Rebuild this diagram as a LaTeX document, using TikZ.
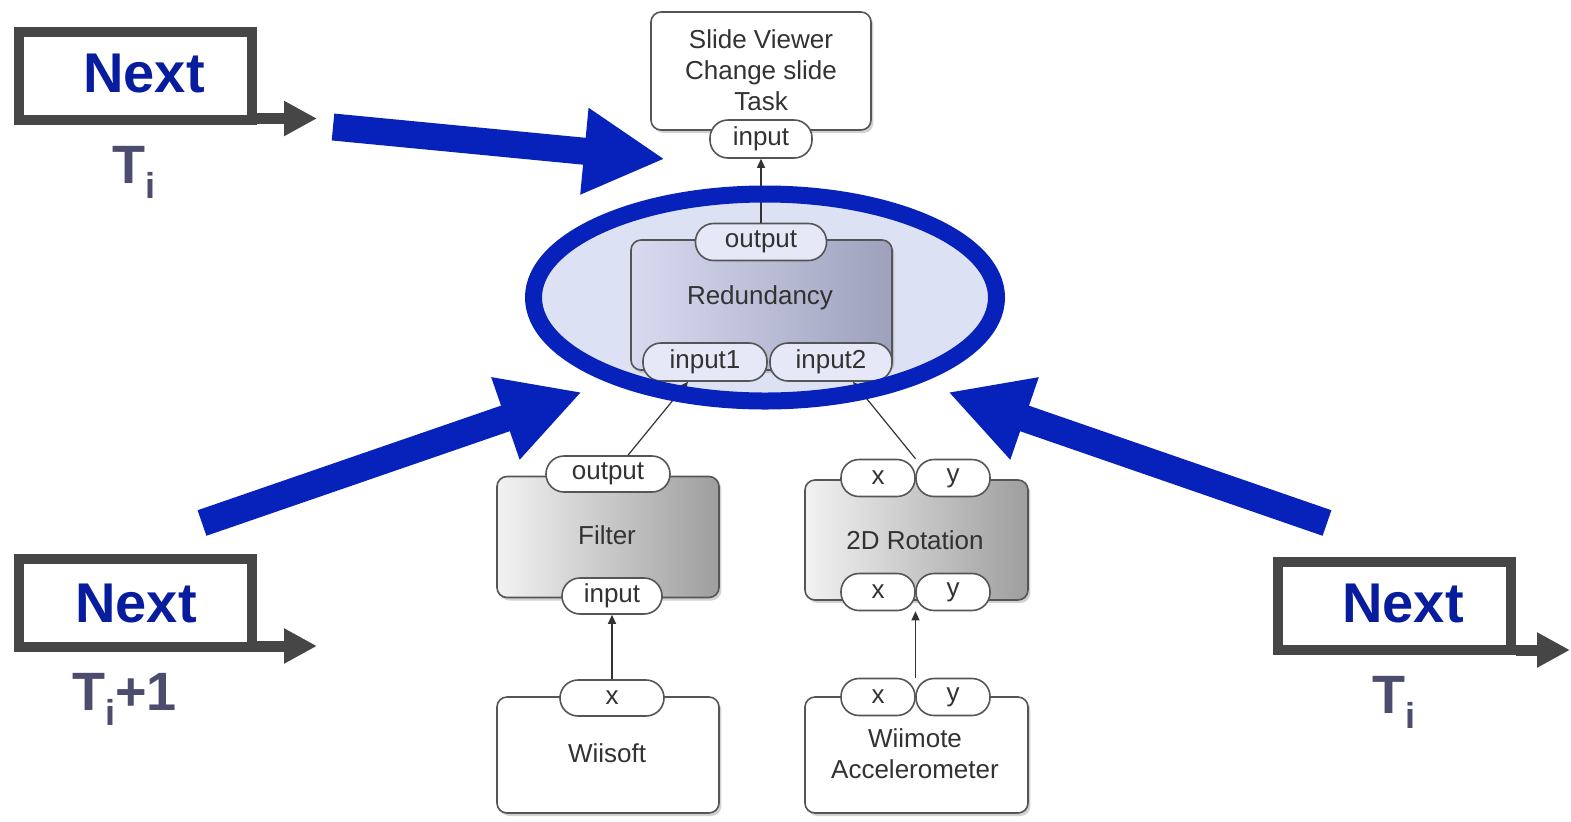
\documentclass[tikz,border=0pt]{standalone}
\usepackage{fontspec}
\setmainfont{Liberation Sans}
\usetikzlibrary{arrows.meta,shapes.geometric,shadows,calc}
\definecolor{nextblue}{RGB}{8,28,158}
\definecolor{arrowblue}{RGB}{6,34,186}
\definecolor{tgray}{RGB}{76,76,110}
\definecolor{boxgray}{RGB}{70,70,70}
\definecolor{lav}{RGB}{221,225,244}
\definecolor{lavpill}{RGB}{230,232,248}
\definecolor{dtext}{RGB}{50,50,50}
\definecolor{mline}{RGB}{85,85,85}
\newcommand\Tsub[1]{T\raisebox{-7.5pt}{\fontsize{18}{18}\selectfont i}#1}
\tikzset{
  nextbox/.style={draw=boxgray, line width=5pt, fill=white, minimum width=116.5pt, minimum height=44pt, inner sep=0pt},
  nexttext/.style={font=\fontsize{28}{30}\selectfont\bfseries, text=nextblue, inner sep=0pt, anchor=base},
  tlabel/.style={font=\fontsize{27}{30}\selectfont\bfseries, text=tgray, inner sep=0pt, anchor=base west},
  garrow/.style={draw=boxgray, line width=5.5pt, -{Triangle[length=16.5pt,width=16.5pt]}},
  barrow/.style={draw=arrowblue, line width=13.5pt, -{Triangle[length=40.5pt,width=40.5pt]}},
  module/.style={draw=mline, line width=0.8pt, rounded corners=5pt, inner sep=0pt,
     drop shadow={opacity=0.35, shadow xshift=1.2pt, shadow yshift=-1.5pt}},
  whitemod/.style={module, fill=white},
  graymod/.style={module, left color=white!95!black, right color=black!38},
  pill/.style={draw=mline, line width=0.8pt, fill=white, rounded corners=9pt, inner sep=0pt,
     minimum height=18.5pt, font=\fontsize{13}{15.5}\selectfont, text=dtext},
  dlabel/.style={font=\fontsize{13}{15.5}\selectfont, text=dtext, inner sep=0pt, align=center},
  link/.style={draw=black!80, line width=0.6pt, -{Triangle[length=4.5pt,width=4pt]}},
}
\begin{document}
\begin{tikzpicture}[x=0.5pt,y=-0.5pt]
\useasboundingbox (0,0) rectangle (1571,821);
\fill[white] (0,0) rectangle (1571,821);

% ellipse fill
\node[ellipse, fill=lav, minimum width=231.5pt, minimum height=103.5pt, inner sep=0pt] (ell) at (765,297.5) {};

% modules
\node[whitemod, minimum width=110pt, minimum height=59pt] (sv) at (761,71) {};
\node[dlabel] (svT) at (761,70) {Slide Viewer\\Change slide\\Task};
\node[pill, minimum width=51pt, minimum height=19pt] (svIn) at (761,139) {input};

\node[module, left color={rgb,255:red,216;green,219;blue,240}, right color={rgb,255:red,158;green,161;blue,188}, minimum width=130.5pt, minimum height=65pt] (red) at (761.5,305) {};
\node[dlabel] (redT) at (760,298) {Redundancy};
\node[pill, fill=lavpill, minimum width=65.5pt] (redOut) at (761,242) {output};
\node[pill, fill=lavpill, minimum width=62pt, minimum height=19pt] (in1) at (705,362) {input1};
\node[pill, fill=lavpill, minimum width=61pt, minimum height=19pt] (in2) at (831,362) {input2};

\node[graymod, minimum width=111pt, minimum height=60.5pt] (fil) at (608,537) {};
\node[dlabel] (filT) at (607,535) {Filter};
\node[pill, minimum width=62pt, minimum height=18pt] (fOut) at (608,474) {output};
\node[pill, minimum width=50pt, minimum height=18pt] (fIn) at (612,596) {input};

\node[graymod, minimum width=111.5pt, minimum height=60pt] (rot) at (916.5,540) {};
\node[dlabel] (rotT) at (915,540) {2D Rotation};
\node[pill, minimum width=37pt] (rTx) at (878,478) {x};
\node[pill, minimum width=37pt] (rTy) at (953,478) {y};
\node[pill, minimum width=37pt] (rBx) at (878,592) {x};
\node[pill, minimum width=37pt] (rBy) at (953,592) {y};

\node[whitemod, minimum width=111pt, minimum height=58pt] (wii) at (608,755) {};
\node[dlabel] (wiiT) at (607,753) {Wiisoft};
\node[pill, minimum width=52pt, minimum height=18pt] (wX) at (612,698) {x};

\node[whitemod, minimum width=111.5pt, minimum height=58pt] (wm) at (916.5,755) {};
\node[dlabel] (wmT) at (915,754) {Wiimote\\Accelerometer};
\node[pill, minimum width=37pt] (mX) at (878,697) {x};
\node[pill, minimum width=37pt] (mY) at (953,697) {y};

% connectors
\draw[link] (redOut.north) -- (svIn.south);
\draw[link] (fOut.north -| 628,0) -- (in1.south -| 688,0);
\draw[link] ($(rTx.north east)!0.5!(rTy.north west)$) -- (in2.south -| 853,0);
\draw[link] (wX.north -| 612,0) -- (fIn.south -| 612,0);
\draw[link] ($(mX.north east)!0.5!(mY.north west)$) -- ($(rBx.south east)!0.5!(rBy.south west)$);

% ellipse ring
\draw[draw=arrowblue, line width=8.5pt] (ell.center) ellipse [x radius=115.75pt, y radius=51.75pt];

% blue arrows
\coordinate (b1s) at (333,127);
\coordinate (b1e) at (665,159);
\coordinate (b2s) at (202,523);
\coordinate (b2e) at (582,392);
\coordinate (b3s) at (1327,523);
\coordinate (b3e) at (948,392);
\draw[barrow] (b1s) -- (b1e);
\draw[barrow] (b2s) -- (b2e);
\draw[barrow] (b3s) -- (b3e);

% Next boxes
\node[nextbox] (n1) at (135.5,76) {};
\node[nexttext] (n1T) at (144,92) {Next};
\coordinate (g1) at (317,118.5);
\draw[garrow] (n1.east |- g1) -- (g1);
\node[tlabel] (t1) at (112,183) {\Tsub{}};

\node[nextbox] (n2) at (135.5,603) {};
\node[nexttext] (n2T) at (136,622) {Next};
\coordinate (g2) at (317,646);
\draw[garrow] (n2.east |- g2) -- (g2);
\node[tlabel] (t2) at (72,710) {\Tsub{+1}};

\node[nextbox] (n3) at (1394.5,606) {};
\node[nexttext] (n3T) at (1403,622) {Next};
\coordinate (g3) at (1570,650);
\draw[garrow] (n3.east |- g3) -- (g3);
\node[tlabel] (t3) at (1372,713) {\Tsub{}};
\end{tikzpicture}
\end{document}
